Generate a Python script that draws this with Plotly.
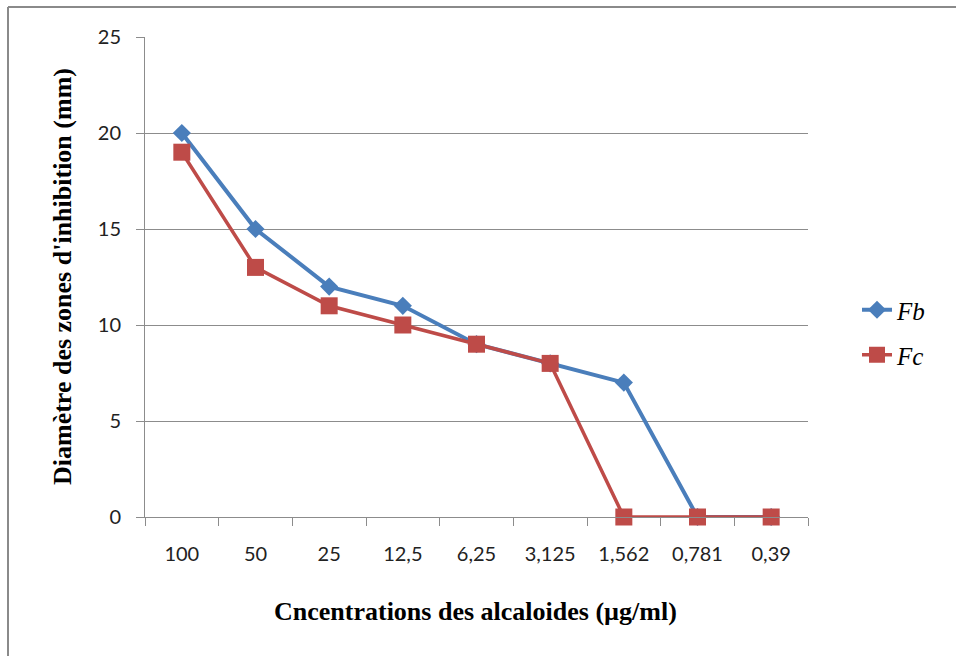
import plotly.graph_objects as go

categories = ["100", "50", "25", "12,5", "6,25", "3,125", "1,562", "0,781", "0,39"]
fb_values = [20, 15, 12, 11, 9, 8, 7, 0, 0]
fc_values = [19, 13, 11, 10, 9, 8, 0, 0, 0]
y_ticks = [0, 5, 10, 15, 20, 25]

BLUE = "#4A7EBB"
RED = "#BE4B48"
GRID = "#8C8C8C"

fig = go.Figure()
fig.add_trace(go.Scatter(
    x=categories, y=fb_values, name="Fb", mode="lines+markers",
    line=dict(color=BLUE, width=4),
    marker=dict(symbol="diamond", size=14, color=BLUE),
    legend="legend", cliponaxis=False,
))
fig.add_trace(go.Scatter(
    x=categories, y=fc_values, name="Fc", mode="lines+markers",
    line=dict(color=RED, width=3.5),
    marker=dict(symbol="square", size=17, color=RED),
    legend="legend2", cliponaxis=False,
))

L, R, T, B = 145, 148, 37, 139
W, H = 956, 656
pw, ph = W - L - R, H - T - B

def px_x(p):
    return (p - L) / pw

def px_y(p):
    return (H - B - p) / ph

legend_font = dict(family="Liberation Serif", size=25, color="black", style="italic")

fig.update_layout(
    width=W, height=H,
    margin=dict(l=L, r=R, t=T, b=B, autoexpand=False),
    paper_bgcolor="white", plot_bgcolor="white",
    showlegend=True,
    legend=dict(x=px_x(857), y=px_y(310), xanchor="left", yanchor="middle",
                font=legend_font, bgcolor="rgba(0,0,0,0)"),
    legend2=dict(x=px_x(857), y=px_y(355), xanchor="left", yanchor="middle",
                 font=legend_font, bgcolor="rgba(0,0,0,0)"),
    xaxis=dict(
        type="category", categoryorder="array", categoryarray=categories,
        range=[-0.5, len(categories) - 0.5],
        showgrid=False, showline=True, linecolor=GRID, linewidth=1,
        ticks="outside", tickson="boundaries", ticklen=8, tickcolor=GRID,
        tickfont=dict(family="Lato", size=20, color="#222222"),
        ticklabelstandoff=19, zeroline=False, fixedrange=True,
    ),
    yaxis=dict(
        range=[0, 25], tickvals=y_ticks, showgrid=True, gridcolor=GRID, gridwidth=1,
        showline=True, linecolor=GRID, linewidth=1,
        ticks="outside", ticklen=8, tickcolor=GRID,
        tickfont=dict(family="Lato", size=20, color="#222222"),
        ticklabelstandoff=11, zeroline=False, fixedrange=True,
    ),
    annotations=[
        dict(text="<b>Cncentrations des alcaloides (µg/ml)</b>", xref="paper", yref="paper",
             x=px_x(475), y=px_y(611), xanchor="center", yanchor="middle", showarrow=False,
             font=dict(family="Liberation Serif", size=26, color="black")),
        dict(text="<b>Diamètre des zones d'inhibition (mm)</b>", xref="paper", yref="paper",
             x=px_x(62), y=px_y(277), xanchor="center", yanchor="middle", showarrow=False,
             textangle=-90,
             font=dict(family="Liberation Serif", size=26, color="black")),
    ],
    shapes=[
        dict(type="line", xref="paper", yref="paper", x0=px_x(8), x1=px_x(980),
             y0=px_y(7), y1=px_y(7), line=dict(color="#8A8A8A", width=2)),
        dict(type="line", xref="paper", yref="paper", x0=px_x(8), x1=px_x(8),
             y0=px_y(7), y1=px_y(700), line=dict(color="#8A8A8A", width=2)),
    ],
)

fig.write_html("out.html")
